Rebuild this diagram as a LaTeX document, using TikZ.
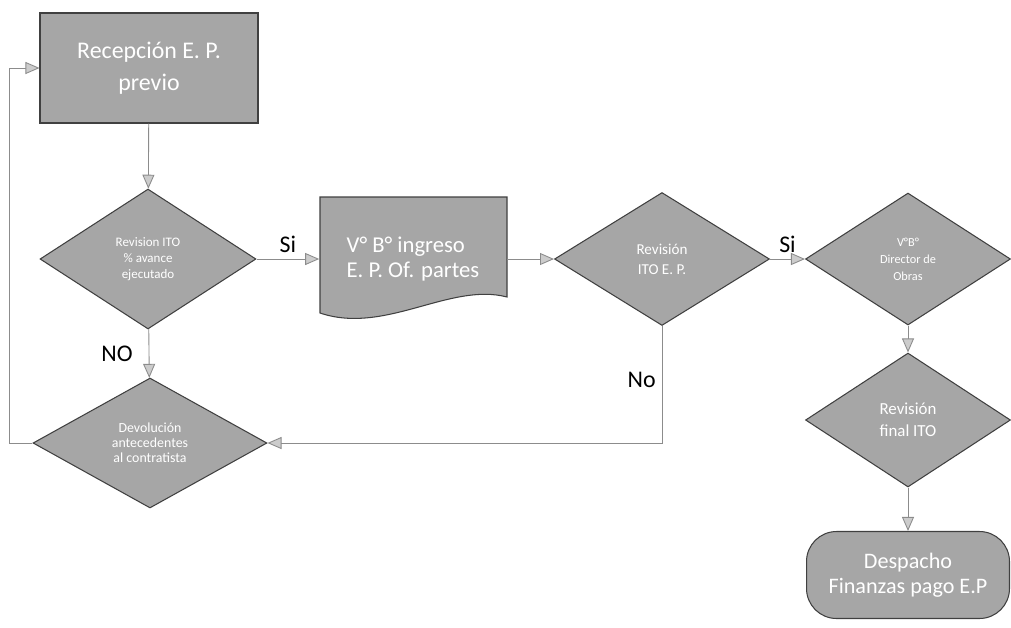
\documentclass[tikz,border=0pt]{standalone}
\usepackage{fontspec}
\setmainfont{Carlito}
\usetikzlibrary{shapes.geometric,arrows.meta}

\definecolor{boxgray}{RGB}{166,166,166}
\definecolor{linegray}{RGB}{140,140,140}

\begin{document}
\begin{tikzpicture}[x=0.02cm,y=-0.02cm,
    box/.style={draw=black!75,fill=boxgray,text=white,align=center,line width=0.6pt},
    decision/.style={box,diamond,inner sep=0pt},
    flow/.style={draw=linegray,line width=0.5pt,-{Triangle[length=0.28cm,width=0.24cm,fill=gray!40,color=linegray]}},
    answer/.style={font=\fontsize{13.6}{16}\selectfont}]
    \useasboundingbox (0,0) rectangle (1011,627);
    \node[box,minimum width=4.36cm,minimum height=2.2cm,font=\fontsize{13.6}{18}\selectfont] (recepcion) at (149,68) {Recepción E. P.\\previo};
    \node[decision,minimum width=4.32cm,minimum height=2.8cm,font=\fontsize{7.4}{9}\selectfont] (revision) at (148,259) {Revision ITO\\\% avance\\ejecutado};
    \node[decision,minimum width=4.68cm,minimum height=2.6cm,font=\fontsize{7.9}{8.5}\selectfont] (devolucion) at (150,443) {Devolución\\antecedentes\\al contratista};
    \path[box] (320,197) -- (507,197) -- (507,297) .. controls (450,282) and (385,335) .. (320,313) -- cycle;
    \node[text=white,align=left,minimum width=3.74cm,font=\fontsize{12.9}{14.7}\selectfont] (ingreso) at (413,259) {V° B° ingreso\\E. P. Of. partes};
    \node[decision,minimum width=4.3cm,minimum height=2.66cm,font=\fontsize{8.6}{11.3}\selectfont] (itoep) at (662,259) {Revisión\\ITO E. P.};
    \node[decision,minimum width=4.1cm,minimum height=2.64cm,font=\fontsize{7}{9.6}\selectfont] (vbdirector) at (908,259) {V°B°\\Director de\\Obras};
    \node[decision,minimum width=4.1cm,minimum height=2.68cm,font=\fontsize{9.6}{12.5}\selectfont] (final) at (908,420) {Revisión\\final ITO};
    \node[box,rounded corners=0.6cm,minimum width=4.06cm,minimum height=1.74cm,font=\fontsize{12.6}{14.2}\selectfont] (despacho) at (908,575) {Despacho\\Finanzas pago E.P};
    \draw[flow] (recepcion) -- (revision);
    \draw[flow] (revision) -- node[answer,left=0.2cm] {NO} (devolucion);
    \draw[flow] (devolucion.west) -- ++(-23,0) |- (recepcion.west);
    \draw[flow] (revision) -- node[answer,above] {Si} (ingreso);
    \draw[flow] (ingreso) -- (itoep);
    \draw[flow] (itoep.south) |- node[answer,left,pos=0.23] {No} (devolucion.east);
    \draw[flow] (itoep) -- node[answer,above] {Si} (vbdirector);
    \draw[flow] (vbdirector) -- (final);
    \draw[flow] (final) -- (despacho);
\end{tikzpicture}
\end{document}
